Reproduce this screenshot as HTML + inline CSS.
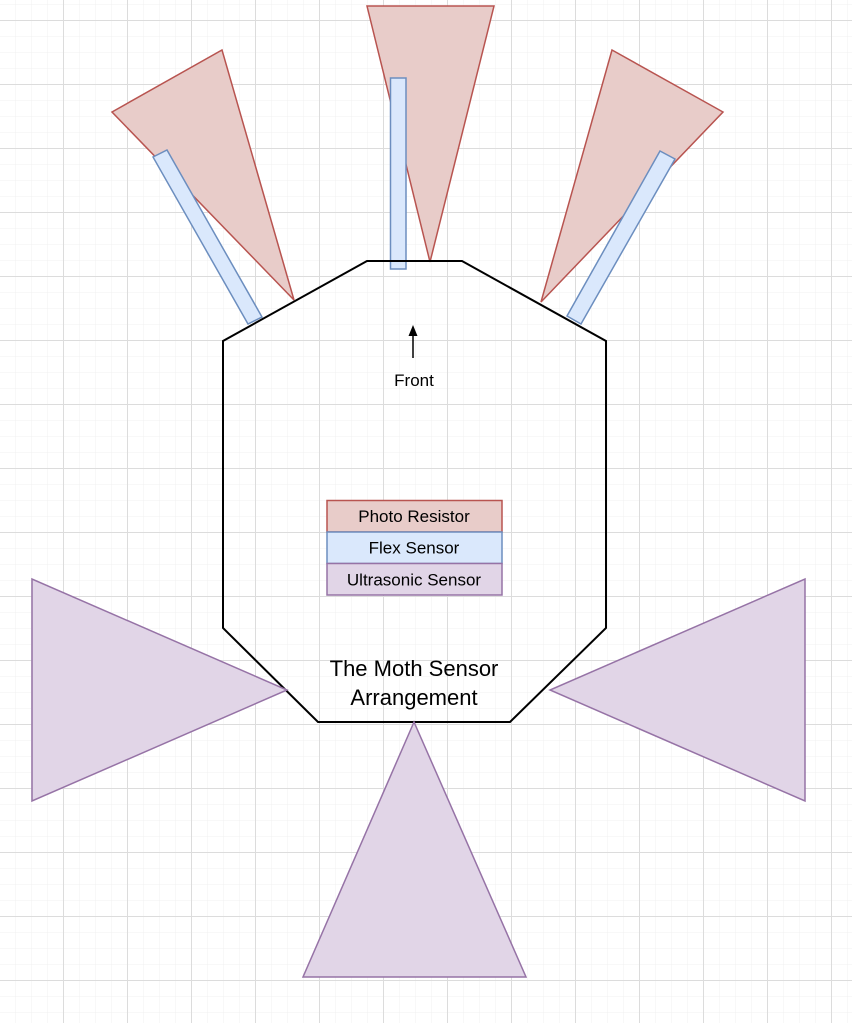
<!DOCTYPE html>
<html><head><meta charset="utf-8"><style>
html,body{margin:0;padding:0;background:#fff;}
svg{display:block;}
text{font-family:"Liberation Sans",Arial,sans-serif;fill:#000;}
</style></head><body>
<svg width="852" height="1023" viewBox="0 0 852 1023" xmlns="http://www.w3.org/2000/svg">
<defs>
<pattern id="minor" x="-1" y="4" width="16" height="16" patternUnits="userSpaceOnUse">
<path d="M0 0H16M0 0V16" stroke="#f0f0f0" stroke-width="1" fill="none"/>
</pattern>
<pattern id="major" x="-1" y="20" width="64" height="64" patternUnits="userSpaceOnUse">
<path d="M0 0.5H64M0.5 0V64" stroke="#dcdcdc" stroke-width="1" fill="none"/>
</pattern>
</defs>
<rect width="852" height="1023" fill="#fff"/>
<rect width="852" height="1023" fill="url(#minor)"/>
<rect width="852" height="1023" fill="url(#major)"/>

<g fill="#e8ccc9" stroke="#b85450" stroke-width="1.5" stroke-linejoin="miter">
<polygon points="112,112 222,50 294,300"/>
<polygon points="367,6 494,6 430,262"/>
<polygon points="612,50 723,112 541,302"/>
</g>
<g fill="#dae8fc" stroke="#6c8ebf" stroke-width="1.5">
<polygon points="153,157 167,150 262,317 248,324"/>
<rect x="390.5" y="78" width="15.5" height="191"/>
<polygon points="660,151 675,159 581,324 567,316"/>
</g>
<polygon points="367,261 462,261 606,341 606,628 510,722 318,722 223,628 223,341" fill="none" stroke="#000" stroke-width="2"/>
<g fill="#e1d5e7" stroke="#9673a6" stroke-width="1.5">
<polygon points="32,579 32,801 287,690"/>
<polygon points="805,579 805,801 550,690"/>
<polygon points="414,722 303,977 526,977"/>
</g>
<line x1="413" y1="358" x2="413" y2="334" stroke="#000" stroke-width="1.5"/>
<polygon points="413,325 408.5,336 417.5,336" fill="#000"/>
<text x="414" y="386" font-size="17" text-anchor="middle">Front</text>
<rect x="327" y="500.5" width="175" height="31.5" fill="#e8ccc9" stroke="#b85450" stroke-width="1.5"/>
<rect x="327" y="532" width="175" height="31.5" fill="#dae8fc" stroke="#6c8ebf" stroke-width="1.5"/>
<rect x="327" y="563.5" width="175" height="31.5" fill="#e1d5e7" stroke="#9673a6" stroke-width="1.5"/>
<text x="414" y="522" font-size="17" text-anchor="middle">Photo Resistor</text>
<text x="414" y="553.5" font-size="17" text-anchor="middle">Flex Sensor</text>
<text x="414" y="585.5" font-size="17" text-anchor="middle">Ultrasonic Sensor</text>
<text x="414" y="676" font-size="22" text-anchor="middle">The Moth Sensor</text>
<text x="414" y="705" font-size="22" text-anchor="middle">Arrangement</text>
</svg>
</body></html>
